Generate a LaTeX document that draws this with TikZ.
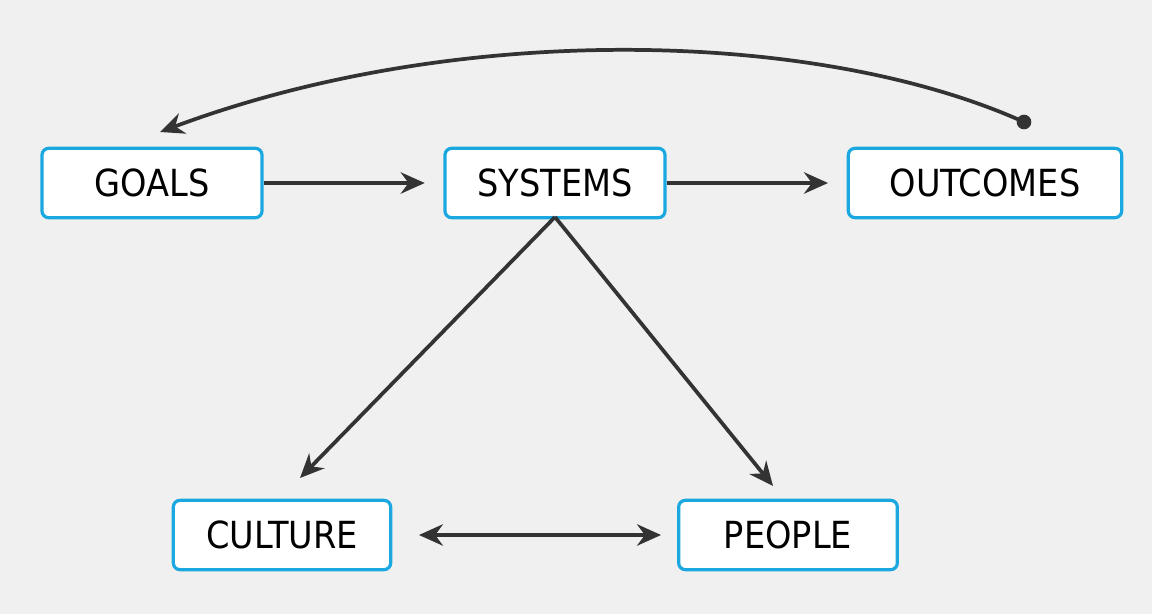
\documentclass[tikz,border=0pt]{standalone}
\usepackage{fontspec}
\setmainfont{DejaVu Sans Condensed}
\usetikzlibrary{arrows.meta}
\definecolor{bg}{HTML}{F0F0F0}
\definecolor{bx}{HTML}{1BA8E0}
\definecolor{ln}{HTML}{333333}
\begin{document}
\begin{tikzpicture}[x=0.75pt,y=-0.75pt,
  box/.style={draw=bx,line width=2.4pt,fill=white,rounded corners=5pt,inner sep=0pt,font=\fontsize{28}{30}\selectfont},
  conn/.style={draw=ln,line width=2.8pt,-{Stealth[length=18pt,width=16pt]}}]
\fill[bg] (0,0) rectangle (1152,614);
\node[box,minimum width=165pt,minimum height=52pt] (goals) at (152,183) {GOALS};
\node[box,minimum width=165pt,minimum height=52pt] (systems) at (555,183) {SYSTEMS};
\node[box,minimum width=205pt,minimum height=52pt] (outcomes) at (985,183) {OUTCOMES};
\node[box,minimum width=163pt,minimum height=52pt] (culture) at (282,535) {CULTURE};
\node[box,minimum width=164pt,minimum height=52pt] (people) at (788,535) {PEOPLE};
\draw[conn,shorten >=14pt] (goals) -- (systems);
\draw[conn,shorten >=14pt] (systems) -- (outcomes);
\coordinate (sb) at (555,217);
\coordinate (ct) at (300,478);
\coordinate (pt) at (773,486);
\coordinate (od) at (1024,122);
\coordinate (ga) at (160,132);
\draw[conn] (sb) -- (ct);
\draw[conn] (sb) -- (pt);
\draw[conn,{Stealth[length=18pt,width=16pt]}-{Stealth[length=18pt,width=16pt]},shorten <=20pt,shorten >=12pt] (culture) -- (people);
\fill[ln] (od) circle (5.5pt);
\draw[conn] (od) .. controls (820,30) and (460,20) .. (ga);
\end{tikzpicture}
\end{document}
